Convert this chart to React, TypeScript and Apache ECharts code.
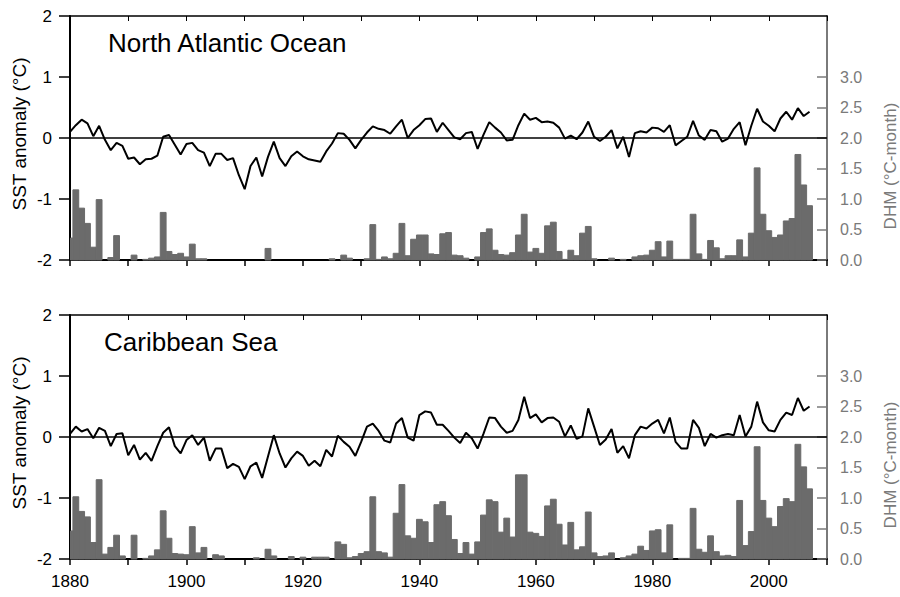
import React, { useEffect, useRef } from "react";
import * as echarts from "echarts";

const FIRST_YEAR = 1880;
const X_MIN = 1880;
const X_MAX = 2010;
const X_TICK_LABELS = [1880, 1900, 1920, 1940, 1960, 1980, 2000];
const SST_TICKS = [-2, -1, 0, 1, 2];
const DHM_TICKS = [0, 0.5, 1.0, 1.5, 2.0, 2.5, 3.0];

const PANEL_TITLES = ["North Atlantic Ocean", "Caribbean Sea"];
const SST_NAME = "SST anomaly (°C)";
const DHM_NAME = "DHM (°C-month)";

// North Atlantic Ocean, SST anomaly 1880-2007
const NA_SST = [
  0.10, 0.21, 0.30, 0.24, 0.03, 0.20, -0.03, -0.20, -0.08, -0.13,
  -0.34, -0.32, -0.43, -0.35, -0.34, -0.29, 0.02, 0.05, -0.11, -0.27,
  -0.10, -0.08, -0.20, -0.24, -0.46, -0.26, -0.26, -0.36, -0.33, -0.61,
  -0.84, -0.46, -0.32, -0.63, -0.31, -0.06, -0.33, -0.46, -0.30, -0.22,
  -0.30, -0.35, -0.37, -0.39, -0.22, -0.09, 0.08, 0.07, -0.03, -0.17,
  -0.03, 0.09, 0.19, 0.15, 0.13, 0.07, 0.19, 0.30, 0.00, 0.13,
  0.21, 0.31, 0.32, 0.10, 0.25, 0.13, 0.01, -0.02, 0.08, 0.10,
  -0.18, 0.05, 0.26, 0.17, 0.09, -0.04, -0.03, 0.21, 0.40, 0.30,
  0.33, 0.26, 0.27, 0.25, 0.17, -0.01, 0.04, -0.02, 0.09, 0.27,
  0.02, -0.05, 0.02, 0.13, -0.17, 0.02, -0.31, 0.08, 0.11, 0.09,
  0.17, 0.16, 0.10, 0.21, -0.12, -0.05, 0.02, 0.28, 0.04, -0.03,
  0.13, 0.11, -0.06, -0.01, 0.15, 0.26, -0.12, 0.20, 0.48, 0.27,
  0.20, 0.11, 0.32, 0.43, 0.30, 0.49, 0.36, 0.43,
];

// North Atlantic Ocean, degree heating months 1880-2007
const NA_DHM = [
  0.36, 1.15, 0.85, 0.60, 0.21, 0.99, 0, 0.04, 0.40, 0,
  0, 0.08, 0, 0.01, 0.03, 0.05, 0.78, 0.14, 0.09, 0.11,
  0.05, 0.26, 0.02, 0.02, 0, 0, 0, 0, 0, 0,
  0, 0, 0, 0, 0.19, 0, 0, 0, 0, 0,
  0, 0, 0, 0, 0, 0.02, 0, 0.08, 0.03, 0,
  0, 0.02, 0.58, 0.01, 0.05, 0.02, 0.11, 0.60, 0.07, 0.34,
  0.41, 0.41, 0.10, 0.09, 0.43, 0.45, 0.08, 0.07, 0.03, 0,
  0.05, 0.45, 0.51, 0.16, 0.09, 0.08, 0.12, 0.41, 0.75, 0.13,
  0.19, 0.11, 0.56, 0.62, 0.14, 0.01, 0.16, 0.07, 0.44, 0.55,
  0.02, 0, 0, 0.03, 0, 0.01, 0, 0.05, 0.07, 0.08,
  0.16, 0.30, 0.05, 0.31, 0.01, 0.01, 0.01, 0.75, 0.10, 0.01,
  0.32, 0.20, 0.02, 0.07, 0.07, 0.33, 0.05, 0.44, 1.51, 0.75,
  0.48, 0.37, 0.41, 0.64, 0.68, 1.73, 1.23, 0.89,
];

// Caribbean Sea, SST anomaly 1880-2007
const CS_SST = [
  0.05, 0.17, 0.09, 0.13, -0.02, 0.15, 0.10, -0.15, 0.05, 0.06,
  -0.30, -0.13, -0.37, -0.26, -0.39, -0.15, 0.07, 0.16, -0.15, -0.27,
  -0.05, 0.03, -0.13, -0.01, -0.39, -0.19, -0.19, -0.51, -0.44, -0.49,
  -0.69, -0.48, -0.42, -0.67, -0.32, 0.03, -0.27, -0.50, -0.35, -0.24,
  -0.31, -0.47, -0.39, -0.48, -0.21, -0.32, 0.02, -0.08, -0.16, -0.31,
  -0.08, 0.17, 0.22, 0.10, -0.06, -0.09, 0.22, 0.31, -0.01, -0.06,
  0.36, 0.42, 0.40, 0.20, 0.20, 0.10, -0.01, -0.10, 0.07, -0.02,
  -0.19, 0.05, 0.32, 0.31, 0.17, 0.07, 0.10, 0.28, 0.66, 0.31,
  0.37, 0.24, 0.31, 0.32, 0.25, 0.01, 0.19, -0.03, 0.01, 0.47,
  0.17, -0.13, -0.04, 0.13, -0.26, -0.15, -0.35, 0.03, 0.17, 0.14,
  0.22, 0.28, 0.06, 0.32, -0.08, -0.19, -0.19, 0.28, 0.15, -0.15,
  0.05, -0.01, 0.03, 0.05, 0.03, 0.36, 0.01, 0.17, 0.58, 0.24,
  0.11, 0.09, 0.28, 0.40, 0.36, 0.64, 0.43, 0.50,
];

// Caribbean Sea, degree heating months 1880-2007
const CS_DHM = [
  0.46, 1.02, 0.78, 0.69, 0.27, 1.30, 0.08, 0.19, 0.39, 0.05,
  0, 0.39, 0, 0.01, 0.05, 0.15, 0.79, 0.34, 0.09, 0.08,
  0.07, 0.53, 0.10, 0.19, 0, 0.07, 0.05, 0, 0, 0,
  0, 0, 0.02, 0, 0.16, 0.05, 0, 0, 0.04, 0,
  0.03, 0, 0.03, 0.03, 0.03, 0, 0.28, 0.24, 0.02, 0.04,
  0.09, 0.12, 1.02, 0.12, 0.10, 0.03, 0.75, 1.22, 0.38, 0.34,
  0.65, 0.61, 0.27, 0.89, 0.94, 0.71, 0.32, 0.09, 0.27, 0.08,
  0.28, 0.72, 0.97, 0.94, 0.44, 0.67, 0.36, 1.38, 1.38, 0.44,
  0.42, 0.37, 0.87, 0.98, 0.57, 0.23, 0.60, 0.15, 0.20, 0.77,
  0.10, 0.04, 0.05, 0.10, 0, 0.02, 0.05, 0.08, 0.21, 0.14,
  0.46, 0.48, 0.10, 0.56, 0, 0.01, 0.01, 0.83, 0.16, 0.11,
  0.38, 0.12, 0.05, 0.06, 0.04, 0.96, 0.22, 0.45, 1.84, 0.96,
  0.67, 0.53, 0.86, 0.99, 0.94, 1.88, 1.51, 1.15,
];

const FONT = "'Liberation Sans', Arial, Helvetica, sans-serif";
const GRAY = "#7a7a7a";
const BAR = "#6b6b6b";

const GRID_LEFT = 70;
const GRID_WIDTH = 757;
const GRID_HEIGHT = 244;
const GRID_TOPS = [16, 315];

function pairs(values: number[]) {
  return values.map((v, i) => [FIRST_YEAR + i, v]);
}

function renderBar(params: any, api: any) {
  const x = api.value(0);
  const v = api.value(1);
  if (!v) return null;
  const p0 = api.coord([x - 0.5, v]);
  const p1 = api.coord([x + 0.5, 0]);
  const left = Math.max(p0[0], params.coordSys.x + 0.5);
  const right = Math.min(p1[0], params.coordSys.x + params.coordSys.width);
  return {
    type: "rect",
    shape: { x: left, y: p0[1], width: right - left, height: p1[1] - p0[1] },
    style: { fill: BAR, stroke: BAR, lineWidth: 1 },
  };
}

export default function App() {
  const ref = useRef<HTMLDivElement>(null);

  useEffect(() => {
    if (!ref.current) return;
    const chart = echarts.init(ref.current, undefined, { renderer: "svg" });

    const grids = GRID_TOPS.map((top) => ({
      left: GRID_LEFT,
      top,
      width: GRID_WIDTH,
      height: GRID_HEIGHT,
      containLabel: false,
    }));

    const xAxes: any[] = [];
    const yAxes: any[] = [];
    GRID_TOPS.forEach((_, g) => {
      xAxes.push({
        type: "value",
        gridIndex: g,
        position: "bottom",
        min: X_MIN,
        max: X_MAX,
        interval: 10,
        axisLine: { onZero: false, lineStyle: { color: "#000", width: 2 } },
        axisTick: { inside: false, length: 6, lineStyle: { color: "#000", width: 1.5 } },
        axisLabel: {
          show: g === 1,
          margin: 14,
          color: "#000",
          fontSize: 17,
          fontFamily: FONT,
          formatter: (v: number) => (X_TICK_LABELS.includes(v) ? String(v) : ""),
        },
        splitLine: { show: false },
      });
      xAxes.push({
        type: "value",
        gridIndex: g,
        position: "top",
        min: X_MIN,
        max: X_MAX,
        interval: 10,
        axisLine: { onZero: false, lineStyle: { color: "#000", width: 1.5 } },
        axisTick: { inside: true, length: 5, lineStyle: { color: "#000", width: 1 } },
        axisLabel: { show: false },
        splitLine: { show: false },
      });
      yAxes.push({
        type: "value",
        gridIndex: g,
        position: "left",
        min: -2,
        max: 2,
        interval: 1,
        axisLine: { show: true, onZero: false, lineStyle: { color: "#000", width: 2 } },
        axisTick: { show: true, inside: false, length: 11, lineStyle: { color: "#000", width: 1.5 } },
        axisLabel: {
          color: "#000",
          fontSize: 17,
          fontFamily: FONT,
          margin: 18,
          customValues: SST_TICKS,
        },
        splitLine: { show: false },
      });
      yAxes.push({
        type: "value",
        gridIndex: g,
        position: "right",
        min: 0,
        max: 4,
        interval: 0.5,
        axisLine: { show: true, onZero: false, lineStyle: { color: GRAY, width: 2 } },
        axisTick: {
          show: true,
          inside: true,
          length: 10,
          lineStyle: { color: GRAY, width: 1.5 },
          customValues: DHM_TICKS,
        },
        axisLabel: {
          color: GRAY,
          fontSize: 16,
          fontFamily: FONT,
          margin: 13,
          customValues: DHM_TICKS,
          formatter: (v: number) => v.toFixed(1),
        },
        splitLine: { show: false },
      });
    });

    const panels = [
      { sst: NA_SST, dhm: NA_DHM },
      { sst: CS_SST, dhm: CS_DHM },
    ];

    const series: any[] = [];
    panels.forEach((p, g) => {
      series.push({
        type: "custom",
        xAxisIndex: g * 2,
        yAxisIndex: g * 2 + 1,
        data: pairs(p.dhm),
        renderItem: renderBar,
        z: 1,
        silent: true,
      });
      series.push({
        type: "line",
        xAxisIndex: g * 2,
        yAxisIndex: g * 2,
        data: pairs(p.sst),
        showSymbol: false,
        symbol: "none",
        lineStyle: { color: "#000", width: 2 },
        z: 3,
        silent: true,
        markLine: {
          silent: true,
          symbol: ["none", "none"],
          label: { show: false },
          lineStyle: { color: "#000", width: 1.5, type: "solid" },
          data: [{ yAxis: 0 }],
        },
      });
    });

    const graphics: any[] = [];
    GRID_TOPS.forEach((top, g) => {
      graphics.push({
        type: "text",
        x: g === 0 ? 108 : 104,
        y: top + 27,
        style: {
          text: PANEL_TITLES[g],
          font: `26px ${FONT}`,
          fill: "#000",
          align: "left",
          verticalAlign: "middle",
        },
      });
      graphics.push({
        type: "text",
        x: 19,
        y: top + 118,
        rotation: Math.PI / 2,
        style: {
          text: SST_NAME,
          font: `19px ${FONT}`,
          fill: "#000",
          align: "center",
          verticalAlign: "middle",
        },
      });
      graphics.push({
        type: "text",
        x: 890,
        y: top + 150,
        rotation: Math.PI / 2,
        style: {
          text: DHM_NAME,
          font: `17px ${FONT}`,
          fill: GRAY,
          align: "center",
          verticalAlign: "middle",
        },
      });
    });

    chart.setOption({
      animation: false,
      backgroundColor: "#fff",
      grid: grids,
      xAxis: xAxes,
      yAxis: yAxes,
      series,
      graphic: graphics,
    });

    return () => chart.dispose();
  }, []);

  return (
    <div
      ref={ref}
      style={{ position: "absolute", left: 0, top: 0, width: 900, height: 597 }}
    />
  );
}
